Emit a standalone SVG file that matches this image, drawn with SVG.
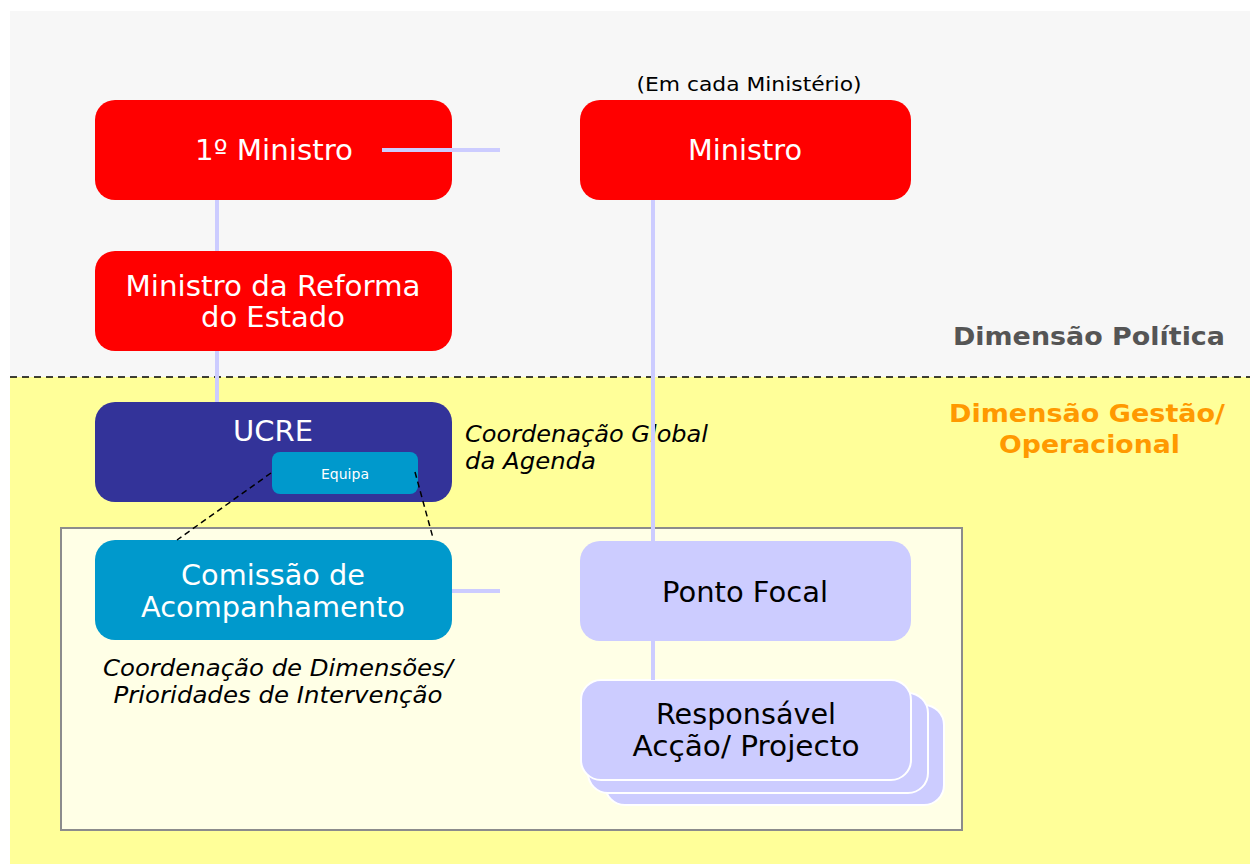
<svg xmlns="http://www.w3.org/2000/svg" width="1250" height="864" viewBox="0 0 1250 864">
<style>
text{font-family:"DejaVu Sans","Verdana",sans-serif}
.w{fill:#fff;font-size:28px;text-anchor:middle}
.k{fill:#000;font-size:28px;text-anchor:middle}
.it{fill:#000;font-size:23px;font-style:italic}
.b{font-size:25px;font-weight:bold}
.ln{stroke:#ccccff;stroke-width:4;fill:none}
.dl{stroke:#000;stroke-width:1.5;stroke-dasharray:6,4;fill:none}
.stk{fill:#ccccff;stroke:#fff;stroke-width:2}
</style>
<rect x="0" y="0" width="1250" height="864" fill="#fff"/>
<rect x="10" y="11" width="1240" height="366" fill="#f7f7f7"/>
<rect x="10" y="377" width="1240" height="487" fill="#ffff99"/>
<line x1="10" y1="377" x2="1250" y2="377" stroke="#000" stroke-width="1.5" stroke-dasharray="7,5"/>
<rect x="61" y="528" width="901" height="302" fill="#ffffe6" stroke="#8c8c8c" stroke-width="2"/>

<text class="b" x="953" y="345" fill="#555555" textLength="272" lengthAdjust="spacingAndGlyphs">Dimensão Política</text>
<text class="b" x="949" y="422" fill="#ff9900" textLength="276" lengthAdjust="spacingAndGlyphs">Dimensão Gestão/</text>
<text class="b" x="999" y="453" fill="#ff9900" textLength="181" lengthAdjust="spacingAndGlyphs">Operacional</text>

<g id="n1">
<rect x="95" y="100" width="357" height="100" rx="20" fill="#ff0000"/>
<text class="w" x="274" y="160" textLength="158" lengthAdjust="spacingAndGlyphs">1º Ministro</text>
</g>
<g id="n2">
<text x="749" y="91" font-size="20" text-anchor="middle" fill="#000" textLength="225" lengthAdjust="spacingAndGlyphs">(Em cada Ministério)</text>
<rect x="580" y="100" width="331" height="100" rx="20" fill="#ff0000"/>
<text class="w" x="745" y="160" textLength="114" lengthAdjust="spacingAndGlyphs">Ministro</text>
</g>
<g id="n3">
<rect x="95" y="251" width="357" height="100" rx="20" fill="#ff0000"/>
<text class="w" x="273" y="296" textLength="295" lengthAdjust="spacingAndGlyphs">Ministro da Reforma</text>
<text class="w" x="273" y="327" textLength="144" lengthAdjust="spacingAndGlyphs">do Estado</text>
</g>
<g id="n4">
<rect x="95" y="402" width="357" height="100" rx="20" fill="#333399"/>
<text class="w" x="273" y="441" textLength="80" lengthAdjust="spacingAndGlyphs">UCRE</text>
<rect x="272" y="452" width="146" height="42" rx="8" fill="#0099cc"/>
<text x="345" y="479" font-size="14" fill="#fff" text-anchor="middle" textLength="48" lengthAdjust="spacingAndGlyphs">Equipa</text>
<text class="it" x="465" y="442" textLength="243" lengthAdjust="spacingAndGlyphs">Coordenação Global</text>
<text class="it" x="465" y="469" textLength="131" lengthAdjust="spacingAndGlyphs">da Agenda</text>
</g>
<g id="n5">
<rect x="95" y="540" width="357" height="100" rx="20" fill="#0099cc"/>
<text class="w" x="273" y="585" textLength="184" lengthAdjust="spacingAndGlyphs">Comissão de</text>
<text class="w" x="273" y="617" textLength="264" lengthAdjust="spacingAndGlyphs">Acompanhamento</text>
<text class="it" x="278" y="676" text-anchor="middle" textLength="350" lengthAdjust="spacingAndGlyphs">Coordenação de Dimensões/</text>
<text class="it" x="278" y="703" text-anchor="middle" textLength="329" lengthAdjust="spacingAndGlyphs">Prioridades de Intervenção</text>
</g>
<g id="n6">
<rect x="580" y="541" width="331" height="100" rx="20" fill="#ccccff"/>
<text class="k" x="745" y="602" textLength="166" lengthAdjust="spacingAndGlyphs">Ponto Focal</text>
</g>
<g id="n7">
<rect class="stk" x="605" y="705" width="339" height="100" rx="20"/>
<rect class="stk" x="588" y="693" width="340" height="100" rx="20"/>
<rect class="stk" x="581" y="680" width="330" height="100" rx="20"/>
<text class="k" x="746" y="724" textLength="180" lengthAdjust="spacingAndGlyphs">Responsável</text>
<text class="k" x="746" y="756" textLength="227" lengthAdjust="spacingAndGlyphs">Acção/ Projecto</text>
</g>

<g id="connectors">
<line class="ln" x1="382" y1="150" x2="500" y2="150"/>
<line class="ln" x1="217" y1="200" x2="217" y2="251"/>
<line class="ln" x1="217" y1="351" x2="217" y2="402"/>
<line class="ln" x1="653" y1="200" x2="653" y2="541"/>
<line class="ln" x1="452" y1="591" x2="500" y2="591"/>
<line class="ln" x1="653" y1="641" x2="653" y2="680"/>
<line class="dl" x1="271" y1="473" x2="177" y2="540"/>
<line class="dl" x1="415" y1="472" x2="433" y2="538"/>
</g>
</svg>
